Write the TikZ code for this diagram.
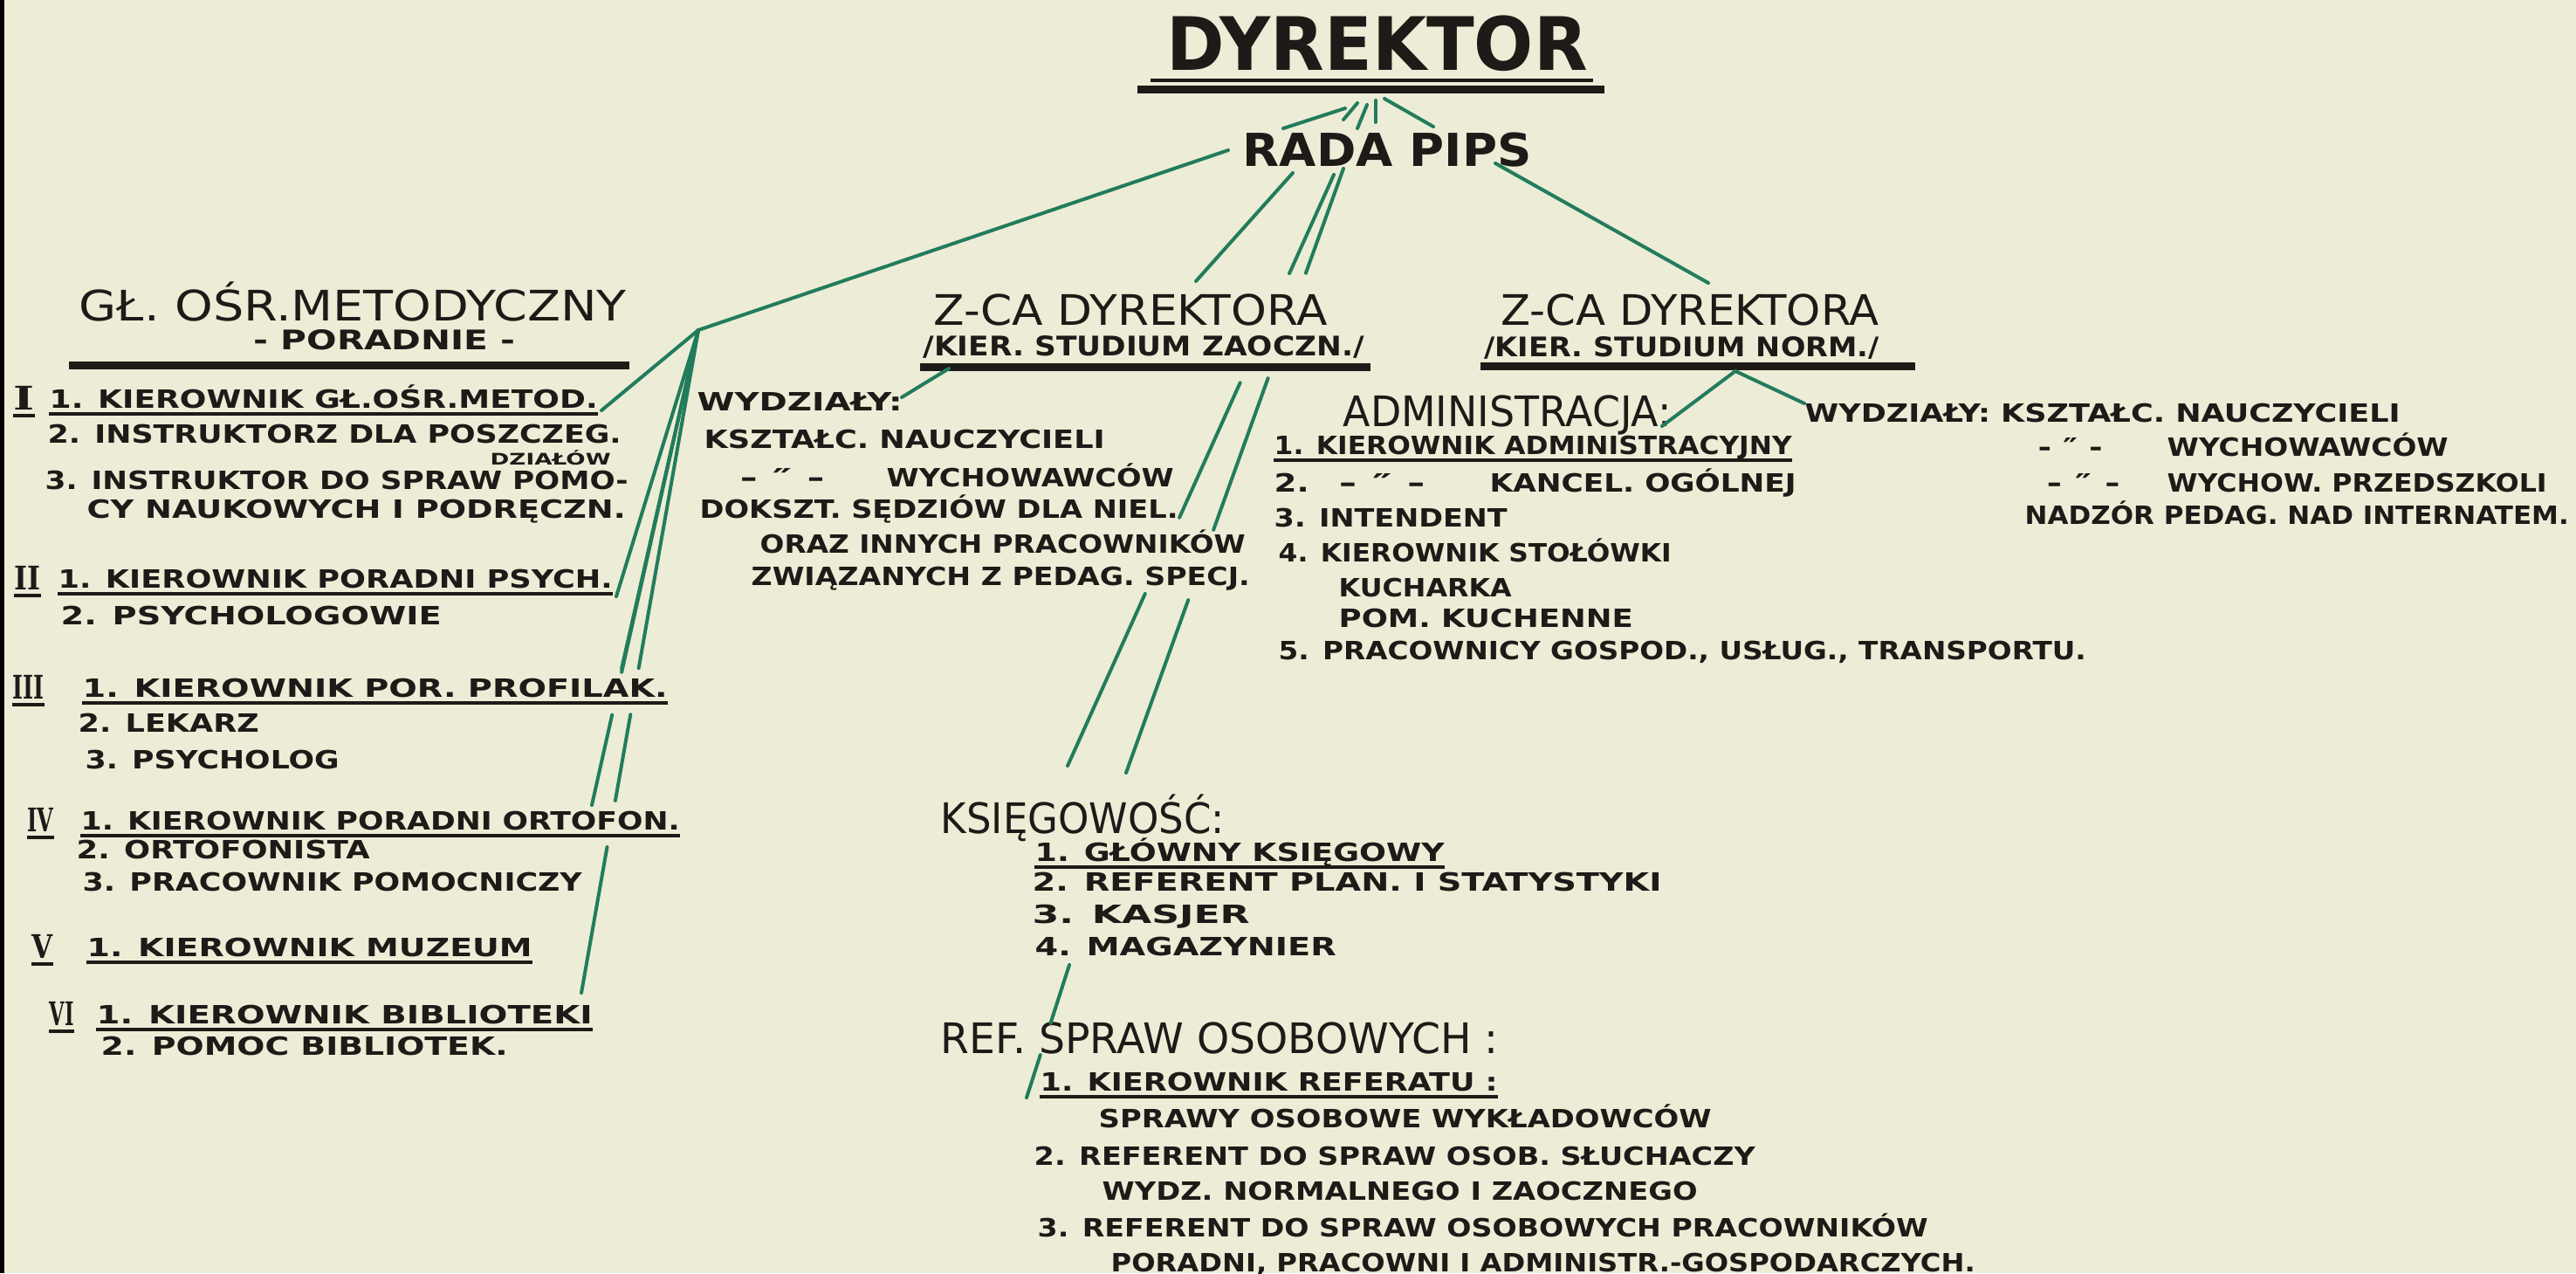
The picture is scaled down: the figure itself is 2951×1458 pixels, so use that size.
\documentclass[tikz,border=0pt]{standalone}
\usepackage{fontspec}
\usepackage{graphicx}
\usetikzlibrary{calc}
\newfontfamily\hand{DejaVu Sans}
\newfontfamily\numfont{DejaVu Serif}
\definecolor{paper}{RGB}{237,236,214}
\definecolor{ink}{RGB}{30,26,24}
\definecolor{lead}{RGB}{34,124,92}
% stretch a label to a given width, keep its height
\newcommand{\sx}[2]{\resizebox{#1}{\height}{#2}}

\begin{document}
\begin{tikzpicture}[x=0.1mm,y=-0.1mm,
  txt/.style={anchor=base west, inner sep=0pt, text=ink, font=\hand\bfseries\fontsize{8.2}{9}\selectfont},
  subtxt/.style={txt, font=\hand\bfseries\fontsize{8.8}{9}\selectfont},
  smalltxt/.style={txt, font=\hand\bfseries\fontsize{5.2}{6}\selectfont},
  headtxt/.style={txt, font=\hand\fontsize{13.7}{14}\selectfont},
  bigtxt/.style={txt, font=\hand\bfseries\fontsize{24}{24}\selectfont},
  numtxt/.style={txt, font=\numfont\bfseries\fontsize{10.6}{11}\selectfont},
  link/.style={draw=lead, line width=0.4mm, line cap=round},
  rule/.style={draw=ink, line width=0.35mm},
  barrule/.style={draw=ink, line width=0.9mm}]
\useasboundingbox (0,0) rectangle (2951,1458);
\fill[paper] (0,0) rectangle (2951,1458);
\fill[black] (0,0) rectangle (5,1458);

% Director and council
\node[bigtxt] (dyr) at (1336,80) {\sx{48.2mm}{DYREKTOR}};
\draw[rule] (1318,92) -- (1825,92);
\draw[barrule] (1303,102) -- (1838,102);
\node[txt, font=\hand\bfseries\fontsize{14.8}{15}\selectfont] (rada) at (1423,190) {\sx{33.1mm}{RADA PIPS}};

% Left column: methodical centre
\node[headtxt] (gos) at (90,367) {\sx{62.7mm}{GŁ. OŚR.METODYCZNY}};
\node[subtxt] (por) at (290,400) {\sx{30.0mm}{- PORADNIE -}};
\draw[barrule] (79,418) -- (721,418);

\node[numtxt] (n1) at (15,469) {\sx{2.4mm}{I}};
\node[txt] (i1a) at (56,467) {\sx{62.8mm}{1. KIEROWNIK GŁ.OŚR.METOD.}};
\node[txt] (i1b) at (54,507) {\sx{65.7mm}{2. INSTRUKTORZ DLA POSZCZEG.}};
\node[smalltxt] (i1c) at (561,532) {\sx{13.8mm}{DZIAŁÓW}};
\node[txt] (i1d) at (51,560) {\sx{66.8mm}{3. INSTRUKTOR DO SPRAW POMO-}};
\node[txt] (i1e) at (99,593) {\sx{61.7mm}{CY NAUKOWYCH I PODRĘCZN.}};
\node[numtxt] (n2) at (16,675) {\sx{3.0mm}{II}};
\node[txt] (i2a) at (66,673) {\sx{63.5mm}{1. KIEROWNIK PORADNI PSYCH.}};
\node[txt] (i2b) at (69,715) {\sx{43.6mm}{2. PSYCHOLOGOWIE}};
\node[numtxt] (n3) at (14,800) {\sx{3.6mm}{III}};
\node[txt] (i3a) at (94,798) {\sx{67.0mm}{1. KIEROWNIK POR. PROFILAK.}};
\node[txt] (i3b) at (89,838) {\sx{20.7mm}{2. LEKARZ}};
\node[txt] (i3c) at (97,880) {\sx{29.1mm}{3. PSYCHOLOG}};
\node[numtxt] (n4) at (31,952) {\sx{3.0mm}{IV}};
\node[txt] (i4a) at (92,950) {\sx{68.6mm}{1. KIEROWNIK PORADNI ORTOFON.}};
\node[txt] (i4b) at (87,983) {\sx{33.6mm}{2. ORTOFONISTA}};
\node[txt] (i4c) at (94,1020) {\sx{57.2mm}{3. PRACOWNIK POMOCNICZY}};
\node[numtxt] (n5) at (36,1097) {\sx{2.4mm}{V}};
\node[txt] (i5a) at (99,1095) {\sx{51.0mm}{1. KIEROWNIK MUZEUM}};
\node[numtxt] (n6) at (56,1174) {\sx{2.8mm}{VI}};
\node[txt] (i6a) at (110,1172) {\sx{56.8mm}{1. KIEROWNIK BIBLIOTEKI}};
\node[txt] (i6b) at (115,1208) {\sx{46.6mm}{2. POMOC BIBLIOTEK.}};

% Middle column: deputy for extramural studies
\node[headtxt] (zc1) at (1069,372) {\sx{45.1mm}{Z-CA DYREKTORA}};
\node[subtxt] (zc1s) at (1057,407) {\sx{50.5mm}{/KIER. STUDIUM ZAOCZN./}};
\draw[barrule] (1054,420) -- (1570,420);
\node[txt] (wyd) at (798,470) {\sx{23.5mm}{WYDZIAŁY:}};
\node[txt] (w1) at (806,513) {\sx{45.9mm}{KSZTAŁC. NAUCZYCIELI}};
\node[txt] (w2d) at (847,557) {\sx{9.7mm}{- ″ -}};
\node[txt] (w2) at (1015,557) {\sx{32.9mm}{WYCHOWAWCÓW}};
\node[txt] (w3) at (801,593) {\sx{54.8mm}{DOKSZT. SĘDZIÓW DLA NIEL.}};
\node[txt] (w4) at (870,633) {\sx{55.6mm}{ORAZ INNYCH PRACOWNIKÓW}};
\node[txt] (w5) at (860,670) {\sx{57.1mm}{ZWIĄZANYCH Z PEDAG. SPECJ.}};

% Right column: deputy for regular studies
\node[headtxt] (zc2) at (1719,372) {\sx{43.3mm}{Z-CA DYREKTORA}};
\node[subtxt] (zc2s) at (1700,408) {\sx{45.2mm}{/KIER. STUDIUM NORM./}};
\draw[barrule] (1696,419) -- (2194,419);
\node[headtxt] (adm) at (1538,488) {\sx{37.6mm}{ADMINISTRACJA:}};
\node[txt] (a1) at (1459,520) {\sx{59.3mm}{1. KIEROWNIK ADMINISTRACYJNY}};
\node[txt] (a2n) at (1459,563) {\sx{4.0mm}{2.}};
\node[txt] (a2d) at (1533,563) {\sx{9.9mm}{- ″ -}};
\node[txt] (a2) at (1706,563) {\sx{35.1mm}{KANCEL. OGÓLNEJ}};
\node[txt] (a3) at (1459,603) {\sx{26.7mm}{3. INTENDENT}};
\node[txt] (a4) at (1464,643) {\sx{45.0mm}{4. KIEROWNIK STOŁÓWKI}};
\node[txt] (a5) at (1533,683) {\sx{19.8mm}{KUCHARKA}};
\node[txt] (a6) at (1533,718) {\sx{33.7mm}{POM. KUCHENNE}};
\node[txt] (a7) at (1464,755) {\sx{92.5mm}{5. PRACOWNICY GOSPOD., USŁUG., TRANSPORTU.}};
\node[txt] (r1) at (2067,483) {\sx{68.2mm}{WYDZIAŁY: KSZTAŁC. NAUCZYCIELI}};
\node[txt] (r2d) at (2334,522) {\sx{7.4mm}{- ″ -}};
\node[txt] (r2) at (2482,522) {\sx{32.2mm}{WYCHOWAWCÓW}};
\node[txt] (r3d) at (2344,563) {\sx{8.4mm}{- ″ -}};
\node[txt] (r3) at (2482,563) {\sx{43.5mm}{WYCHOW. PRZEDSZKOLI}};
\node[txt] (r4) at (2319,600) {\sx{62.3mm}{NADZÓR PEDAG. NAD INTERNATEM.}};

% Bottom: accounts and personnel
\node[headtxt] (ks) at (1077,954) {\sx{32.5mm}{KSIĘGOWOŚĆ:}};
\node[txt] (k1) at (1185,986) {\sx{46.9mm}{1. GŁÓWNY KSIĘGOWY}};
\node[txt] (k2) at (1182,1020) {\sx{72.1mm}{2. REFERENT PLAN. I STATYSTYKI}};
\node[txt] (k3) at (1182,1057) {\sx{24.9mm}{3. KASJER}};
\node[txt] (k4) at (1185,1094) {\sx{34.5mm}{4. MAGAZYNIER}};
\node[headtxt] (ref) at (1077,1206) {\sx{63.9mm}{REF. SPRAW OSOBOWYCH :}};
\node[txt] (f1) at (1191,1249) {\sx{52.4mm}{1. KIEROWNIK REFERATU :}};
\node[txt] (f2) at (1258,1291) {\sx{70.2mm}{SPRAWY OSOBOWE WYKŁADOWCÓW}};
\node[txt] (f3) at (1184,1334) {\sx{82.6mm}{2. REFERENT DO SPRAW OSOB. SŁUCHACZY}};
\node[txt] (f4) at (1262,1374) {\sx{68.2mm}{WYDZ. NORMALNEGO I ZAOCZNEGO}};
\node[txt] (f5) at (1188,1416) {\sx{102.0mm}{3. REFERENT DO SPRAW OSOBOWYCH PRACOWNIKÓW}};
\node[txt] (f6) at (1272,1456) {\sx{99.0mm}{PORADNI, PRACOWNI I ADMINISTR.-GOSPODARCZYCH.}};

% underlines of the heads of units
\foreach \n in {n1,n2,n3,n4,n5,n6,i1a,i2a,i3a,i4a,i5a,i6a,a1,k1,f1}
  \draw[rule] ([yshift=-0.7mm]\n.base west) -- ([yshift=-0.7mm]\n.base east);

% green connectors
\coordinate (d0) at (1541,124); \coordinate (d1) at (1470,147);
\coordinate (d2) at (1555,118); \coordinate (d3) at (1539,137);
\coordinate (d4) at (1566,120); \coordinate (d5) at (1555,147);
\coordinate (d6) at (1576,115); \coordinate (d7) at (1576,140);
\coordinate (d8) at (1586,113); \coordinate (d9) at (1642,145);
\foreach \a/\b in {d0/d1,d2/d3,d4/d5,d6/d7,d8/d9}
  \draw[link] (\a) -- (\b);

\coordinate (J) at (800,378);
\coordinate (rL) at (1407,172);
\draw[link] (rL) -- (J);
\coordinate (e1) at (689,470);
\coordinate (e2) at (706,683);
\coordinate (e3) at (712,766);
\coordinate (e4) at (678,922);
\coordinate (e6) at (666,1137);
\foreach \e in {e1,e2,e3}
  \draw[link] (J) -- (\e);
\draw[link] (J) -- ($(J)!0.72!(e4)$) ($(J)!0.81!(e4)$) -- (e4);
\draw[link] (J) -- ($(J)!0.51!(e6)$) ($(J)!0.58!(e6)$) -- ($(J)!0.71!(e6)$)
  ($(J)!0.78!(e6)$) -- (e6);

\coordinate (m1a) at (1481,198); \coordinate (m1b) at (1370,322);
\draw[link] (m1a) -- (m1b);
\coordinate (m2a) at (1528,200); \coordinate (m2b) at (1223,877);
\draw[link] (m2a) -- ($(m2a)!0.167!(m2b)$) ($(m2a)!0.352!(m2b)$) -- ($(m2a)!0.58!(m2b)$)
  ($(m2a)!0.709!(m2b)$) -- (m2b);
\coordinate (m3a) at (1539,193); \coordinate (m3b) at (1290,885);
\draw[link] (m3a) -- ($(m3a)!0.173!(m3b)$) ($(m3a)!0.347!(m3b)$) -- ($(m3a)!0.598!(m3b)$)
  ($(m3a)!0.714!(m3b)$) -- (m3b);
\coordinate (rR) at (1713,187); \coordinate (z2) at (1957,324);
\draw[link] (rR) -- (z2);

\coordinate (z1u) at (1087,422); \coordinate (wy) at (1033,455);
\draw[link] (z1u) -- (wy);
\coordinate (z2u) at (1988,425);
\coordinate (ad) at (1904,488); \coordinate (wr) at (2067,462);
\draw[link] (ad) -- (z2u) -- (wr);

\coordinate (kb) at (1225,1105); \coordinate (fb) at (1176,1257);
\draw[link] (kb) -- ($(kb)!0.44!(fb)$) ($(kb)!0.678!(fb)$) -- (fb);
\end{tikzpicture}
\end{document}
